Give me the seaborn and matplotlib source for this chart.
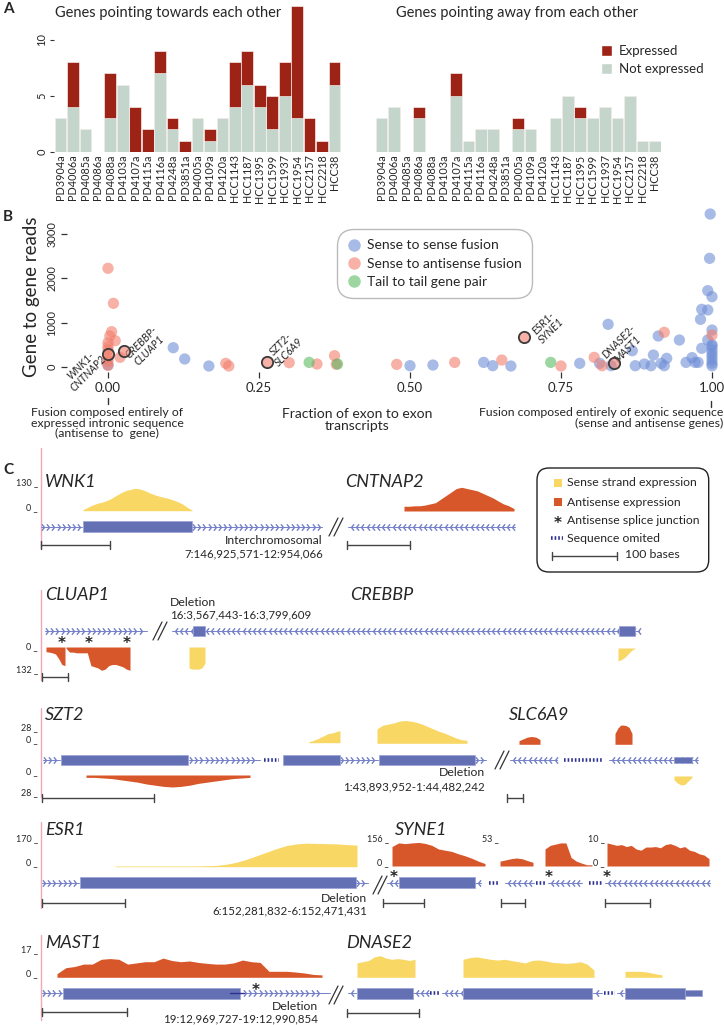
import numpy as np
import pandas as pd
import matplotlib
matplotlib.use('Agg')
import matplotlib.pyplot as plt
import seaborn as sns
from matplotlib.patches import Patch, Rectangle, FancyBboxPatch
from matplotlib.lines import Line2D

# ---------------- panel A: gene pairs per sample
samples = ['PD3904a', 'PD4006a', 'PD4085a', 'PD4086a', 'PD4088a', 'PD4103a',
           'PD4107a', 'PD4115a', 'PD4116a', 'PD4248a', 'PD3851a', 'PD4005a',
           'PD4109a', 'PD4120a', 'HCC1143', 'HCC1187', 'HCC1395', 'HCC1599',
           'HCC1937', 'HCC1954', 'HCC2157', 'HCC2218', 'HCC38']
toward_not = [3, 4, 2, 0, 3, 6, 0, 0, 7, 2, 0, 3, 1, 3, 4, 6, 4, 2, 5, 3, 0, 0, 6]
toward_exp = [0, 4, 0, 0, 4, 0, 4, 2, 2, 1, 1, 0, 1, 0, 4, 3, 2, 3, 3, 10, 3, 1, 2]
away_not = [3, 4, 0, 3, 0, 0, 5, 1, 2, 2, 0, 2, 2, 0, 3, 5, 3, 3, 4, 3, 5, 1, 1]
away_exp = [0, 0, 0, 1, 0, 0, 2, 0, 0, 0, 0, 1, 0, 0, 0, 0, 1, 0, 0, 0, 0, 0, 0]

# ---------------- panel B: fraction of exon-exon transcripts vs reads
sense_x = [0.0, 0.108, 0.127, 0.167, 0.5, 0.538, 0.622, 0.637, 0.667, 0.781,
           0.814, 0.828, 0.833, 0.868, 0.873, 0.888, 0.899, 0.903, 0.911, 0.916,
           0.921, 0.925, 0.946, 0.957, 0.967, 0.972, 0.977, 0.981, 0.983, 0.983,
           0.993, 0.993, 0.993, 0.996, 0.997, 1.0, 1.0, 1.0, 1.0, 1.0, 1.0,
           1.0, 1.0, 1.0, 1.0]
sense_y = [40, 431, 175, 16, 23, 38, 98, 23, 16, 76,
           76, 961, 23, 363, 23, 61, 23, 265, 696, 76,
           23, 190, 605, 98, 205, 98, 98, 1074, 1301, 417,
           1724, 1286, 605, 2457, 3462, 1587, 832, 462, 380, 303, 230,
           150, 76, 20, 500]
anti_x = [0.0, 0.009, 0.006, 0.003, 0.012, 0.0, 0.0, 0.0, 0.0, 0.0, 0.02, 0.0,
          0.195, 0.2, 0.3, 0.346, 0.375, 0.378, 0.478, 0.574, 0.652, 0.75,
          0.805, 0.818, 0.921, 1.0]
anti_y = [2231, 1437, 794, 696, 590, 544, 450, 380, 200, 120, 213, 30,
          76, 16, 91, 61, 250, 55, 53, 98, 151, 16,
          212, 23, 780, 719]
tail_x = [0.333, 0.38, 0.733]
tail_y = [98, 61, 98]
named_x = [0.0, 0.027, 0.263, 0.689, 0.837]
named_y = [288, 363, 113, 680, 76]
named_labels = ['WNK1-\nCNTNAP2', 'CREBBP-\nCLUAP1', 'SZT2-\nSLC6A9',
                'ESR1-\nSYNE1', 'DNASE2-\nMAST1']

# ---------------- panel C: read coverage profiles (fraction of track scale)
wnk1_cov = [0.05, 0.15, 0.25, 0.33, 0.38, 0.45, 0.55, 0.68, 0.8, 0.9, 0.95, 1.0,
            0.97, 0.9, 0.8, 0.72, 0.65, 0.6, 0.55, 0.48, 0.4, 0.3, 0.15, 0.03]
cntnap2_cov = [0.2, 0.2, 0.22, 0.22, 0.25, 0.3, 0.35, 0.5, 0.65, 0.8, 0.95, 1.0,
               0.95, 0.9, 0.85, 0.75, 0.65, 0.55, 0.42, 0.3, 0.22, 0.1]
cluap1_cov_a = [0.2, 0.22, 0.25, 0.3, 0.5, 0.75, 0.8]
cluap1_cov_b = [0.05, 0.22, 0.22, 0.25, 0.25, 0.25, 0.25, 0.8, 0.85, 0.9, 1.0,
                0.95, 0.8, 0.75, 0.75, 0.8, 0.85, 0.95, 1.0]
crebbp_cov_a = [0.9, 0.95, 0.95, 0.95, 0.9, 0.7]
crebbp_cov_b = [0.55, 0.5, 0.4, 0.25, 0.1, 0.02]
szt2_sense_a = [0.1, 0.15, 0.25, 0.35, 0.5, 0.6, 0.75, 0.8, 0.85, 0.95, 1.0]
szt2_sense_b = [1.2, 1.5, 1.6, 1.7, 1.85, 1.9, 1.85, 1.75, 1.6, 1.4, 1.2, 1.0,
                0.85, 0.65, 0.45, 0.3, 0.25]
szt2_anti = [0.2, 0.2, 0.25, 0.3, 0.4, 0.5, 0.6, 0.75, 0.85, 0.95, 1.0, 0.95,
             0.85, 0.7, 0.6, 0.5, 0.4, 0.3, 0.25, 0.2]
slc6a9_anti_a = [0.3, 0.45, 0.6, 0.65, 0.6, 0.4]
slc6a9_anti_b = [0.9, 1.35, 1.6, 1.6, 1.55, 1.4, 0.9]
slc6a9_sense = [0.3, 0.6, 0.75, 0.7, 0.4, 0.1]
esr1_cov = [0.03, 0.03, 0.03, 0.03, 0.03, 0.03, 0.03, 0.03, 0.03, 0.04, 0.05,
            0.1, 0.18, 0.3, 0.45, 0.6, 0.75, 0.88, 0.95, 0.98, 0.97, 0.96,
            0.95, 0.92, 0.9]
syne1_cov_a = [0.8, 0.95, 0.92, 0.95, 0.97, 0.93, 0.85, 0.7, 0.65, 0.6, 0.5,
               0.42, 0.32, 0.2, 0.1]
syne1_cov_b = [0.2, 0.25, 0.3, 0.33, 0.3, 0.22, 0.15]
syne1_cov_c = [0.7, 0.85, 0.9, 0.95, 0.95, 0.35, 0.2, 0.12, 0.05, 0.05]
syne1_cov_d = [0.95, 0.9, 0.85, 0.88, 0.8, 0.85, 0.7, 0.65, 0.78, 0.78, 0.8,
               0.75, 0.88, 0.92, 0.85, 0.75, 0.8, 0.65, 0.6, 0.5, 0.45, 0.3]
mast1_cov = [0.15, 0.4, 0.45, 0.55, 0.55, 0.75, 0.78, 0.75, 0.55, 0.6, 0.65,
             0.65, 0.8, 0.7, 0.65, 0.68, 0.62, 0.58, 0.55, 0.55, 0.6, 0.72,
             0.65, 0.62, 0.25, 0.25, 0.25, 0.22, 0.18, 0.12, 0.1]
dnase2_cov_a = [0.6, 0.65, 0.7, 0.85, 0.9, 0.8, 0.75, 0.78, 0.75, 0.7, 0.75]
dnase2_cov_b = [0.75, 0.82, 0.85, 0.8, 0.75, 0.72, 0.75, 0.7, 0.65, 0.6, 0.7,
                0.72, 0.68, 0.62, 0.6, 0.58, 0.6, 0.65, 0.55, 0.3]
dnase2_cov_c = [0.25, 0.25, 0.25, 0.22, 0.15, 0.1]

RED = '#9E2317'
GREEN = '#C4D5CC'
BLUE = '#6F8FD6'
SALMON = '#F27E6C'
TEAL = '#5DBB63'
YEL = '#F8D765'
ORA = '#D8572A'
EXON = '#6470B4'
CHEV = '#7480C8'
GAP = '#2E3192'
PINK = '#F2A7B4'

sns.set_theme(style='white')
plt.rcParams['font.family'] = ['Lato', 'DejaVu Sans']

W, H = 724, 1025
fig = plt.figure(figsize=(W / 100, H / 100), dpi=100)


def box(x0, y0, x1, y1):
    return [x0 / W, 1 - y1 / H, (x1 - x0) / W, (y1 - y0) / H]


# ---------------- panel A
def bar_panel(ax, nots, exps, show_y):
    df = pd.DataFrame({'sample': samples, 'total': np.add(nots, exps), 'not': nots})
    sns.barplot(data=df, x='sample', y='total', color=RED, saturation=1, width=0.94,
                errorbar=None, edgecolor='white', linewidth=0.4, ax=ax)
    sns.barplot(data=df, x='sample', y='not', color=GREEN, saturation=1, width=0.94,
                errorbar=None, edgecolor='white', linewidth=0.4, ax=ax)
    ax.set_xlim(-0.5, len(samples) - 0.5)
    ax.set_ylim(0, 13)
    ax.set_xlabel('')
    ax.set_ylabel('')
    sns.despine(ax=ax, left=True, bottom=True)
    ax.tick_params(axis='x', length=0, pad=2, labelsize=7.8, labelrotation=90)
    if show_y:
        ax.set_yticks([0, 5, 10])
        ax.set_yticklabels(['0', '5', '10'], rotation=90, va='center', fontsize=8)
        ax.tick_params(axis='y', left=True, length=3, width=0.8, pad=2, color='#333')
    else:
        ax.set_yticks([])


ax_a1 = fig.add_axes(box(54.3, 6.1, 340.7, 151.7))
bar_panel(ax_a1, toward_not, toward_exp, True)
ax_a2 = fig.add_axes(box(375.3, 6.1, 661, 151.7))
bar_panel(ax_a2, away_not, away_exp, False)
ax_a2.legend(handles=[Patch(fc=RED), Patch(fc=GREEN)], labels=['Expressed', 'Not expressed'],
             loc='upper left', bbox_to_anchor=(594 / W, 1 - 38 / H), bbox_transform=fig.transFigure,
             frameon=False, fontsize=9.5, handlelength=0.9, handleheight=0.9,
             handletextpad=0.5, labelspacing=0.45, borderpad=0)

# ---------------- panel B
ax_b = fig.add_axes(box(67, 210, 722, 372))
df_b = pd.DataFrame({
    'frac': sense_x + anti_x + tail_x,
    'reads': sense_y + anti_y + tail_y,
    'kind': ['Sense to sense fusion'] * len(sense_x) + ['Sense to antisense fusion'] * len(anti_x)
            + ['Tail to tail gene pair'] * len(tail_x)})
pal = {'Sense to sense fusion': BLUE, 'Sense to antisense fusion': SALMON,
       'Tail to tail gene pair': TEAL}
sns.scatterplot(data=df_b, x='frac', y='reads', hue='kind', palette=pal, s=66, alpha=0.6,
                linewidth=0, legend=False, ax=ax_b, clip_on=False)
salmon_rgba = matplotlib.colors.to_rgba(SALMON, 0.6)
ax_b.scatter(named_x, named_y, s=66, facecolors=[salmon_rgba], edgecolors='#3a3a3a',
             linewidths=1.3, zorder=5, clip_on=False)
offsets = [(-17, -11), (15, 3), (13, 10), (17, 7), (7, 13)]
for x, y, lab, off in zip(named_x, named_y, named_labels, offsets):
    ax_b.annotate(lab, (x, y), xytext=off, textcoords='offset points', rotation=45,
                  ha='center', va='center', fontsize=7.6, style='italic', linespacing=1.0)
ax_b.set_xlim((67 - 108) / 604, (722 - 108) / 604)
ax_b.set_ylim(-120, 3553)
ax_b.set_xlabel('')
ax_b.set_ylabel('')
sns.despine(ax=ax_b, left=True, bottom=True)
ax_b.set_xticks([0, 0.25, 0.5, 0.75, 1.0])
ax_b.set_xticklabels(['0.00', '0.25', '0.50', '0.75', '1.00'], fontsize=9.5)
ax_b.set_yticks([0, 1000, 2000, 3000])
ax_b.set_yticklabels(['0', '1000', '2000', '3000'], rotation=90, va='center', fontsize=8)
ax_b.tick_params(axis='both', bottom=True, left=True, length=4, width=0.9, color='#333', pad=3)
leg_handles = [Line2D([], [], ls='none', marker='o', ms=9, mec='none',
                      mfc=matplotlib.colors.to_rgba(c, 0.6)) for c in (BLUE, SALMON, TEAL)]
leg = ax_b.legend(leg_handles, list(pal.keys()), loc='upper left',
                  bbox_to_anchor=(330 / W, 1 - 222 / H), bbox_transform=fig.transFigure,
                  frameon=True, fancybox=True, fontsize=10, borderpad=0.75,
                  labelspacing=0.45, handletextpad=0.4, handlelength=1.0)
leg.get_frame().set_edgecolor('#aaaaaa')
leg.get_frame().set_linewidth(1)
leg.get_frame().set_boxstyle('round,pad=0,rounding_size=1.2')

# ---------------- overlay axes (pixel coordinates) for panel C and free text
ax_o = fig.add_axes([0, 0, 1, 1])
ax_o.set_xlim(0, W)
ax_o.set_ylim(H, 0)
ax_o.axis('off')


def txt(x, y, s, **kw):
    kw.setdefault('va', 'center')
    ax_o.text(x, y, s, **kw)


def chevrons(x0, x1, y, d):
    ax_o.plot([x0, x1], [y, y], color=CHEV, lw=0.7, zorder=2)
    xs = np.arange(x0 + 3, x1 - 1, 5.2)
    m = [(-0.8, 1), (0, 0), (-0.8, -1)] if d > 0 else [(0.8, 1), (0, 0), (0.8, -1)]
    ax_o.plot(xs, np.full(len(xs), y), ls='none', marker=m, ms=4.6, mfc='none',
              mec=CHEV, mew=1.0, zorder=3)


def exon(x0, x1, y, h=10.6):
    ax_o.add_patch(Rectangle((x0, y - h / 2), x1 - x0, h, fc=EXON, ec='#9AA2D8',
                             lw=0.5, zorder=4))


def gap(x0, x1, y):
    ax_o.plot([x0, x1], [y, y], color=GAP, lw=2.6, ls=(0, (0.45, 0.55)), zorder=3)


def brk(x, y):
    for dx in (0, 5):
        ax_o.plot([x + dx - 5, x + dx + 4], [y + 9, y - 9], color='#333', lw=0.9)


def scalebar(x0, x1, y):
    ax_o.plot([x0, x1], [y, y], color='#444', lw=1)
    ax_o.plot([x0, x0], [y - 4, y + 4], color='#444', lw=1)
    ax_o.plot([x1, x1], [y - 4, y + 4], color='#444', lw=1)


def cov(x0, x1, base, h, prof, color, down=False):
    p = np.asarray(prof, dtype=float)
    xs = np.linspace(x0, x1, len(p))
    sgn = 1 if down else -1
    ax_o.fill_between(xs, base, base + sgn * h * p, color=color, lw=0, zorder=2)


def scale_lab(y, s, x=38):
    txt(x, y, s + ' _', ha='right', fontsize=6.5)


def gene(x, y, s):
    txt(x, y, s, style='italic', fontsize=13)


def star(x, y):
    txt(x, y + 3.5, '*', ha='center', fontsize=11, family='DejaVu Sans', weight='bold')


def pink(y0, y1):
    ax_o.plot([41, 41], [y0, y1], color=PINK, lw=1)


# panel letters and titles
txt(3, 9, 'A', fontsize=11, weight='bold')
txt(168, 13, 'Genes pointing towards each other', ha='center', fontsize=10.5)
txt(517, 13, 'Genes pointing away from each other', ha='center', fontsize=10.5)
txt(3, 217, 'B', fontsize=11, weight='bold')
txt(32, 297, 'Gene to gene reads', rotation=90, ha='center', fontsize=13.5)
txt(3, 470, 'C', fontsize=11, weight='bold')

# panel B footnotes
ax_o.plot([108, 108], [398, 404], color='#333', lw=1)
ax_o.plot([711, 711], [401, 407], color='#333', lw=1)
txt(107, 407, 'Fusion composed entirely of\nexpressed intronic sequence\n(antisense to  gene)',
    ha='center', va='top', fontsize=8.8, linespacing=0.95)
txt(357, 408, 'Fraction of exon to exon\ntranscripts', ha='center', va='top',
    fontsize=10, linespacing=1.0)
txt(723, 407, 'Fusion composed entirely of exonic sequence\n(sense and antisense genes)',
    ha='right', va='top', fontsize=8.8, linespacing=0.95, multialignment='right')

# legend of panel C
ax_o.add_patch(FancyBboxPatch((537, 468), 171.7, 104, boxstyle='round,pad=0,rounding_size=12',
                              fc='white', ec='#222', lw=1))
ax_o.add_patch(Rectangle((554, 479), 8, 8, fc=YEL, lw=0))
txt(567, 483, 'Sense strand expression', fontsize=8.8)
ax_o.add_patch(Rectangle((554, 498), 8, 8, fc=ORA, lw=0))
txt(567, 502, 'Antisense expression', fontsize=8.8)
star(558, 520)
txt(567, 520, 'Antisense splice junction', fontsize=8.8)
gap(551, 563, 538)
txt(567, 538, 'Sequence omited', fontsize=8.8)
scalebar(552, 617, 556)
txt(625, 555, '100 bases', fontsize=8.8)

# WNK1 - CNTNAP2
pink(448, 548)
gene(45, 482, 'WNK1')
scale_lab(483, '130')
scale_lab(508, '0')
cov(83, 192, 510.7, 22.4, wnk1_cov, YEL)
chevrons(41, 82, 526.7, 1)
exon(83, 192, 526.7)
chevrons(192, 322, 526.7, 1)
brk(334, 527)
scalebar(41, 110, 545)
txt(323, 540, 'Interchromosomal', ha='right', fontsize=8.8)
txt(323, 554, '7:146,925,571-12:954,066', ha='right', fontsize=8.3)
gene(345, 482, 'CNTNAP2')
cov(404, 514, 511, 23.7, cntnap2_cov, ORA)
chevrons(348, 515, 527, -1)
scalebar(347, 410, 545)

# CLUAP1 - CREBBP
pink(590, 680)
gene(45, 595, 'CLUAP1')
chevrons(45, 147, 631, 1)
brk(158, 631)
txt(170, 602, 'Deletion', fontsize=8.8)
txt(170, 615, '16:3,567,443-16:3,799,609', fontsize=8.3)
chevrons(172, 639, 631, -1)
exon(193, 205, 631)
exon(619, 635, 631)
gene(350, 595, 'CREBBP')
for sx in (62, 89, 127):
    star(sx, 640)
scale_lab(647, '0')
scale_lab(670, '132')
cov(46, 65, 647, 23.3, cluap1_cov_a, ORA, down=True)
cov(66, 130, 647, 23.3, cluap1_cov_b, ORA, down=True)
cov(189, 205, 647, 23.3, crebbp_cov_a, YEL, down=True)
cov(618, 635, 648, 23.3, crebbp_cov_b, YEL, down=True)
scalebar(42, 68, 677)

# SZT2 - SLC6A9
pink(708, 797)
gene(45, 715, 'SZT2')
scale_lab(728, '28')
scale_lab(740, '0')
scale_lab(772, '0')
scale_lab(793, '28')
chevrons(43, 60, 760, 1)
exon(61, 188, 760)
chevrons(189, 260, 760, 1)
gap(264, 279, 760)
exon(283, 340, 760)
chevrons(340, 378, 760, 1)
exon(379, 475, 760)
chevrons(475, 486, 760, 1)
brk(500, 760)
chevrons(510, 557, 760, -1)
gap(564, 602, 760)
chevrons(609, 698, 760, -1)
exon(674, 692, 760, h=6)
gene(509, 715, 'SLC6A9')
cov(309, 340, 742.7, 12, szt2_sense_a, YEL)
cov(377, 467, 743.3, 12, szt2_sense_b, YEL)
cov(86, 250, 775, 12, szt2_anti, ORA, down=True)
cov(519, 540, 744.3, 12, slc6a9_anti_a, ORA)
cov(615, 632, 744.3, 12, slc6a9_anti_b, ORA)
cov(674, 692, 776, 12, slc6a9_sense, YEL, down=True)
txt(485, 773, 'Deletion', ha='right', fontsize=8.8)
txt(485, 787, '1:43,893,952-1:44,482,242', ha='right', fontsize=8.3)
scalebar(42, 154, 798)
scalebar(507, 523, 798)

# ESR1 - SYNE1
pink(822, 908)
gene(45, 830, 'ESR1')
scale_lab(839, '170')
scale_lab(863, '0')
cov(115, 357, 866.7, 24, esr1_cov, YEL)
chevrons(42, 79, 882.7, 1)
exon(80, 356, 882.7)
chevrons(356, 368, 882.7, 1)
brk(378, 885)
txt(367, 898, 'Deletion', ha='right', fontsize=8.8)
txt(367, 911, '6:152,281,832-6:152,471,431', ha='right', fontsize=8.3)
scalebar(42, 125, 903)
gene(395, 830, 'SYNE1')
scale_lab(839, '156', x=389)
scale_lab(863, '0', x=389)
cov(392, 485, 866, 24.3, syne1_cov_a, ORA)
scale_lab(839, '53', x=499)
cov(500, 533, 866, 24.3, syne1_cov_b, ORA)
cov(545, 592, 866, 24.3, syne1_cov_c, ORA)
scale_lab(839, '10', x=605)
scale_lab(863, '0', x=605)
cov(607, 709, 866, 24.3, syne1_cov_d, ORA)
chevrons(387, 399, 882.7, -1)
exon(399, 475, 882.7)
chevrons(475, 481, 882.7, -1)
gap(489, 499, 882.7)
chevrons(505, 534, 882.7, -1)
gap(536, 545, 882.7)
chevrons(548, 582, 882.7, -1)
gap(589, 602, 882.7)
chevrons(605, 710, 882.7, -1)
for sx in (394, 549, 607):
    star(sx, 874)
scalebar(383, 424, 903)
scalebar(501, 525, 903)
scalebar(605, 650, 903)

# MAST1 - DNASE2
pink(935, 1020)
gene(45, 943, 'MAST1')
scale_lab(950, '17')
scale_lab(974, '0')
cov(57, 322, 977.3, 24, mast1_cov, ORA)
chevrons(42, 62, 993.3, 1)
exon(63, 240, 993.3)
ax_o.plot([230, 244], [993.3, 993.3], color=GAP, lw=1, zorder=5)
chevrons(243, 320, 993.3, 1)
ax_o.plot([320, 330], [993.3, 993.3], color=CHEV, lw=0.7)
star(256, 987)
brk(334, 995)
txt(318, 1006, 'Deletion', ha='right', fontsize=8.8)
txt(318, 1019, '19:12,969,727-19:12,990,854', ha='right', fontsize=8.3)
scalebar(42, 127, 1012)
gene(346, 943, 'DNASE2')
cov(357, 415, 977.3, 24, dnase2_cov_a, YEL)
cov(463, 594, 977.3, 24, dnase2_cov_b, YEL)
cov(625, 662, 977.3, 24, dnase2_cov_c, YEL)
chevrons(348, 356, 993.3, -1)
exon(357, 413, 993.3)
chevrons(413, 429, 993.3, -1)
gap(430, 440, 993.3)
chevrons(442, 462, 993.3, -1)
exon(463, 592, 993.3)
chevrons(593, 602, 993.3, -1)
gap(604, 615, 993.3)
chevrons(617, 624, 993.3, -1)
exon(625, 685, 993.3)
exon(685, 702, 993.3, h=6)
scalebar(347, 419, 1012.7)

fig.savefig('out.png', dpi=100)
